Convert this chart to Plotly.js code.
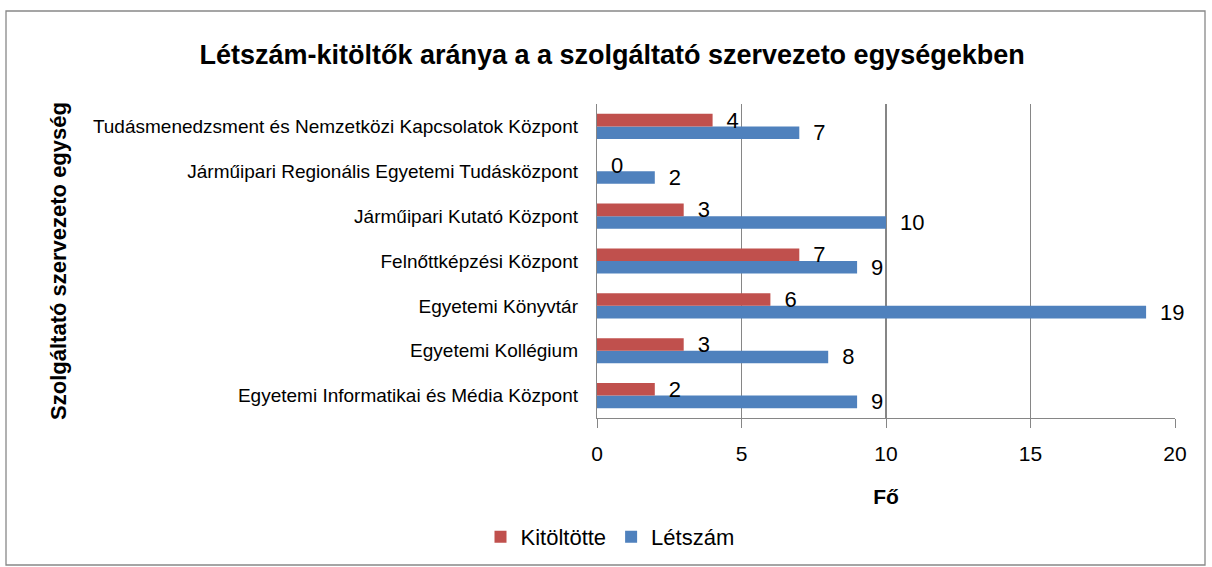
<!DOCTYPE html>
<html><head><meta charset="utf-8">
<script src="https://cdn.plot.ly/plotly-3.0.1.min.js"></script>
<style>html,body{margin:0;padding:0;background:#fff}#chart{width:1212px;height:567px}</style>
</head><body><div id="chart"></div>
<script>
const categories = [
  "Egyetemi Informatikai és Média Központ",
  "Egyetemi Kollégium",
  "Egyetemi Könyvtár",
  "Felnőttképzési Központ",
  "Járműipari Kutató Központ",
  "Járműipari Regionális Egyetemi Tudásközpont",
  "Tudásmenedzsment és Nemzetközi Kapcsolatok Központ"
];
const kitoltotte = [2, 3, 6, 7, 3, 0, 4];
const letszam = [9, 8, 19, 9, 10, 2, 7];
const xTicks = [0, 5, 10, 15, 20];

const FONT = "Liberation Sans, Arial, sans-serif";
const labelFont = {size:22, color:'#000', family:FONT};
const traces = [
  {type:'bar', orientation:'h', name:'Létszám', y:categories, x:letszam,
   marker:{color:'#4F81BD'}, texttemplate:'\u2002%{x}', textposition:'outside',
   constraintext:'none', textfont:labelFont, outsidetextfont:labelFont, cliponaxis:false},
  {type:'bar', orientation:'h', name:'Kitöltötte', y:categories, x:kitoltotte,
   marker:{color:'#C0504D'}, texttemplate:'\u2002%{x}', textposition:'outside',
   constraintext:'none', textfont:labelFont, outsidetextfont:labelFont, cliponaxis:false}
];
const L=597, R=1175, T=104, B=418;
const W=R-L, H=B-T;
const layout = {
  width:1212, height:567,
  margin:{l:L, r:1212-R, t:T, b:567-B},
  paper_bgcolor:'#fff', plot_bgcolor:'#fff',
  font:{family:FONT, color:'#000'},
  barmode:'group', bargap:0.44, bargroupgap:0,
  showlegend:true,
  title:{text:'<b>Létszám-kitöltők aránya a a szolgáltató szervezeto egységekben</b>',
    font:{size:27, family:FONT, color:'#000'}, xref:'container', x:0.505, xanchor:'center',
    yref:'container', y:1-55/567, yanchor:'middle'},
  xaxis:{range:[0,20], tickvals:xTicks, ticktext:xTicks.map(String), showgrid:true, gridcolor:'#868686', gridwidth:1.2,
    zeroline:false, showline:true, linecolor:'#868686', linewidth:1.2, ticks:'outside', ticklen:9, tickcolor:'#868686',
    ticklabelstandoff:8, tickfont:{size:21, family:FONT}, fixedrange:true,
    title:{text:'<b>Fő</b>', font:{size:21, family:FONT}, standoff:24}},
  yaxis:{type:'category', showgrid:false, zeroline:false, showline:true, linecolor:'#868686', linewidth:1.2,
    ticks:'', ticklabelstandoff:14, tickfont:{size:19, family:FONT}, automargin:false, fixedrange:true,
    title:{text:'<b>Szolgáltató szervezeto egység</b>', font:{size:22, family:FONT}, standoff:20}},
  legend:{orientation:'h', traceorder:'reversed', xref:'container', x:610/1212, xanchor:'center',
    yref:'container', y:1-537/567, yanchor:'middle', font:{size:22, family:FONT}},
  shapes:[{type:'rect', xref:'paper', yref:'paper',
    x0:(6-L)/W, x1:(1205-L)/W, y0:(B-565)/H, y1:(B-11)/H,
    line:{color:'#888', width:1.3}, fillcolor:'rgba(0,0,0,0)', layer:'below'}]
};
Plotly.newPlot('chart', traces, layout, {displayModeBar:false, staticPlot:true});
</script></body></html>
